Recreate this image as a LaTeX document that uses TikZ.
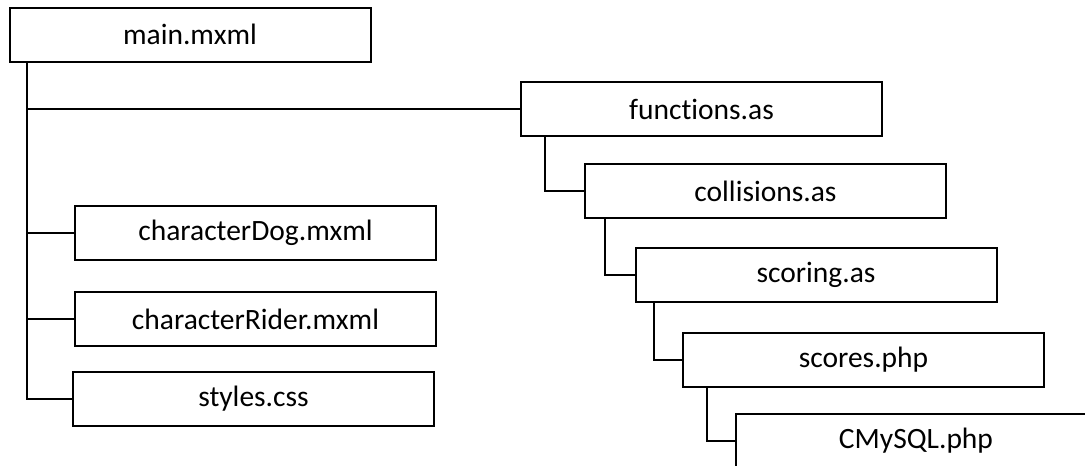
\documentclass[tikz,border=0pt]{standalone}
\usepackage{fontspec}
\setmainfont[Ligatures=NoCommon]{Carlito}
\usetikzlibrary{calc}

\begin{document}
\begin{tikzpicture}[
    x=1pt, y=-1pt,
    file/.style={
        rectangle,
        draw,
        line width=2pt,
        minimum width=361pt,
        minimum height=54pt,
        inner sep=0pt,
        align=center,
        font=\fontsize{29.5}{34}\selectfont
    },
    link/.style={line width=2pt}
]
    \useasboundingbox (0,0) rectangle (1085,466);
    \clip (0,0) rectangle (1085,466);

    % Main application file
    \node[file] (main) at (190,34.5) {main.mxml};

    % Script chain
    \node[file] (functions) at (701.5,109) {functions.as};
    \node[file] (collisions) at (765.5,191) {collisions.as};
    \node[file] (scoring) at (816,275) {scoring.as};
    \node[file] (scores) at (863.5,360) {scores.php};
    \node[file] (cmysql) at (916,441) {CMySQL.php};

    % Components
    \node[file] (dog) at (255.5,232.5) {characterDog.mxml};
    \node[file] (rider) at (255.5,319) {characterRider.mxml};
    \node[file] (styles) at (253.5,399) {styles.css};

    % Trunk from main
    \coordinate (trunk) at ($(main.south west)+(18,0)$);
    \draw[link] (trunk) |- (styles.west);
    \draw[link] (trunk |- functions.west) -- (functions.west);
    \draw[link] (trunk |- dog.west) -- (dog.west);
    \draw[link] (trunk |- rider.west) -- (rider.west);

    % Stepped links
    \draw[link] ($(functions.south west)+(25,0)$) |- (collisions.west);
    \draw[link] ($(collisions.south west)+(21,0)$) |- (scoring.west);
    \draw[link] ($(scoring.south west)+(19,0)$) |- (scores.west);
    \draw[link] ($(scores.south west)+(25,0)$) |- (cmysql.west);
\end{tikzpicture}
\end{document}
